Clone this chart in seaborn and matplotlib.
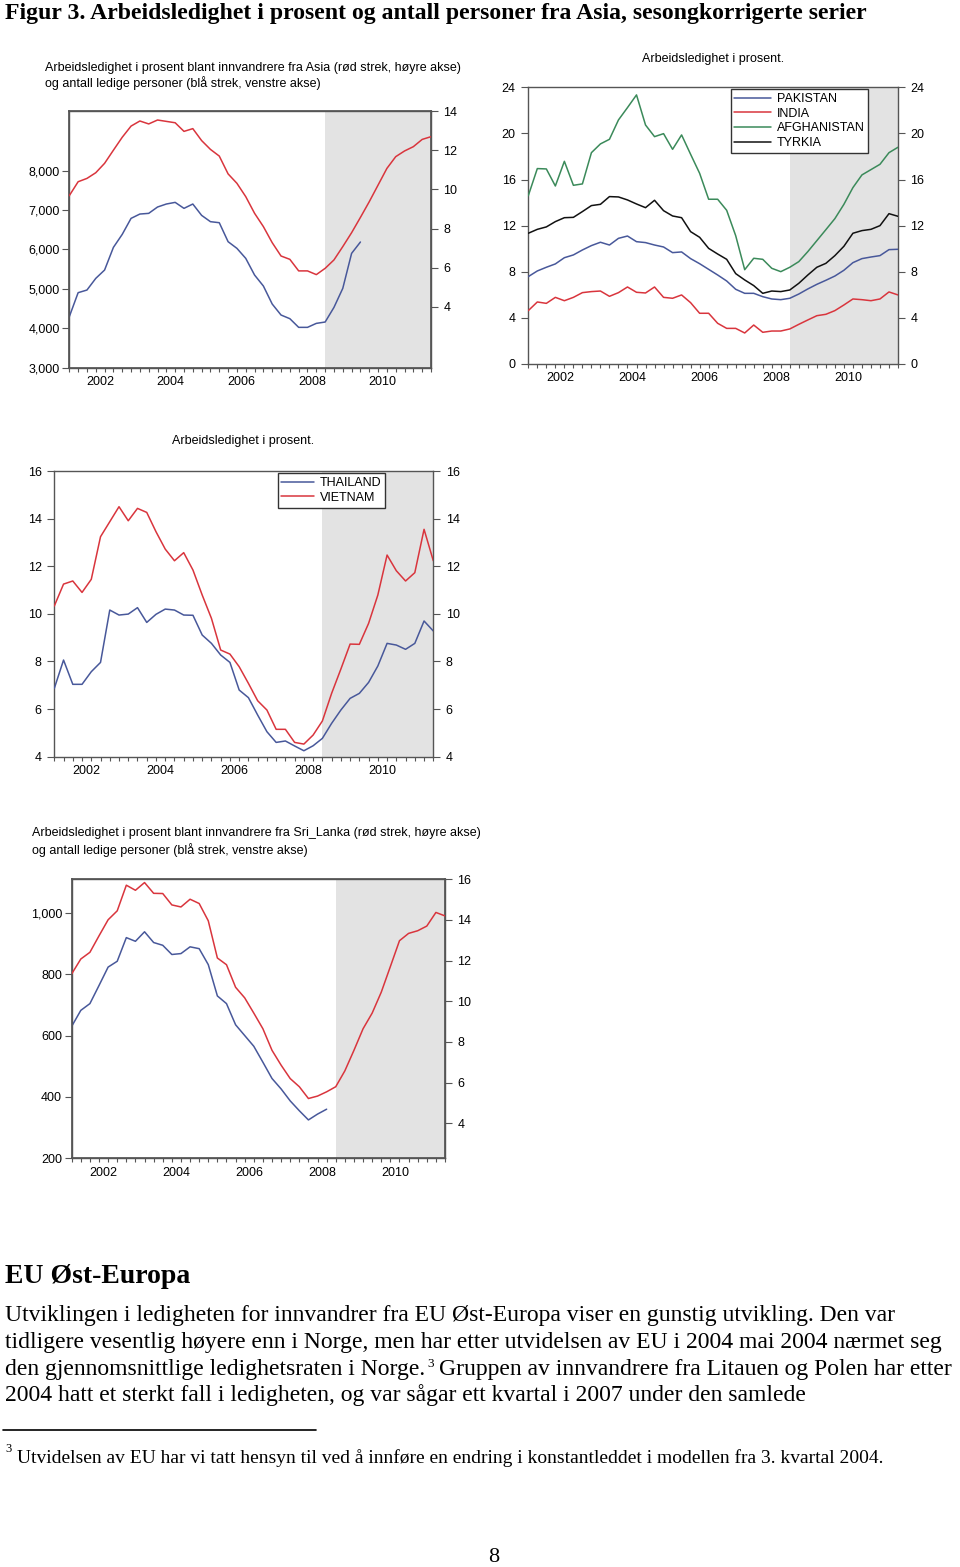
# -*- coding: utf-8 -*-
# Figur 3 : ledighet blant innvandrere fra Asia, sesongkorrigerte kvartalsserier
import numpy as np
import pandas as pd
import matplotlib
matplotlib.use("Agg")
import matplotlib.pyplot as plt
import matplotlib.ticker as mticker
import seaborn as sns

# ---------------- data (2001K3 - 2011K4, 42 kvartal) ----------------
forste_kvartal = "2001Q3"
siste_kvartal = "2011Q4"
prognose_start = 2008.75          # grått felt fra 2008K4
aar_etiketter = [2002, 2004, 2006, 2008, 2010]

# Asia : prosent (høyre akse) og antall ledige (venstre akse, slutter 2009K4)
asia_rate = [9.68, 10.39, 10.56, 10.85, 11.33, 12.0, 12.66, 13.23, 13.49, 13.34,
             13.54, 13.47, 13.4, 12.96, 13.1, 12.49, 12.04, 11.7, 10.79, 10.31,
             9.63, 8.78, 8.1, 7.28, 6.6, 6.43, 5.84, 5.84, 5.65, 5.97,
             6.4, 7.08, 7.79, 8.57, 9.37, 10.22, 11.07, 11.67, 11.96, 12.18,
             12.55, 12.69]
asia_antall = [4294, 4904, 4971, 5267, 5479, 6054, 6384, 6790, 6900, 6917,
               7078, 7154, 7196, 7044, 7154, 6866, 6706, 6680, 6198, 6029,
               5775, 5352, 5073, 4616, 4337, 4244, 4024, 4024, 4125, 4159,
               4531, 5014, 5902, 6190]

pakistan = [7.58, 8.07, 8.39, 8.68, 9.22, 9.46, 9.89, 10.27, 10.56, 10.32,
            10.9, 11.1, 10.61, 10.53, 10.32, 10.15, 9.66, 9.72, 9.14, 8.7,
            8.21, 7.72, 7.2, 6.48, 6.13, 6.13, 5.84, 5.64, 5.58, 5.7,
            6.07, 6.51, 6.91, 7.26, 7.63, 8.13, 8.79, 9.14, 9.28, 9.4,
            9.92, 9.95]
india = [4.63, 5.38, 5.26, 5.78, 5.49, 5.78, 6.19, 6.28, 6.33, 5.87,
         6.19, 6.68, 6.22, 6.16, 6.68, 5.78, 5.7, 5.99, 5.32, 4.4,
         4.4, 3.53, 3.09, 3.09, 2.69, 3.38, 2.75, 2.86, 2.86, 3.04,
         3.44, 3.82, 4.19, 4.31, 4.63, 5.12, 5.64, 5.58, 5.49, 5.64,
         6.25, 5.99]
afghanistan = [14.6, 16.95, 16.92, 15.44, 17.58, 15.5, 15.62, 18.33, 19.09, 19.49,
               21.17, 22.24, 23.34, 20.73, 19.72, 19.98, 18.62, 19.87, 18.19, 16.54,
               14.29, 14.29, 13.33, 11.13, 8.18, 9.17, 9.08, 8.3, 8.01, 8.39,
               8.88, 9.75, 10.7, 11.65, 12.61, 13.85, 15.3, 16.4, 16.86, 17.32,
               18.33, 18.8]
tyrkia = [11.34, 11.68, 11.89, 12.35, 12.69, 12.72, 13.22, 13.74, 13.85, 14.52,
          14.49, 14.23, 13.88, 13.56, 14.2, 13.3, 12.84, 12.69, 11.48, 10.99,
          10.03, 9.54, 9.08, 7.84, 7.29, 6.8, 6.13, 6.33, 6.28, 6.42,
          7.0, 7.72, 8.39, 8.73, 9.4, 10.21, 11.34, 11.57, 11.68, 12.0,
          13.04, 12.81]

thailand = [6.87, 8.06, 7.04, 7.04, 7.57, 7.96, 10.16, 9.95, 9.99, 10.26,
            9.64, 9.98, 10.2, 10.16, 9.95, 9.94, 9.11, 8.76, 8.27, 7.96,
            6.8, 6.48, 5.75, 5.05, 4.6, 4.66, 4.45, 4.25, 4.46, 4.77,
            5.4, 5.96, 6.45, 6.66, 7.12, 7.81, 8.76, 8.69, 8.51, 8.76,
            9.7, 9.28]
vietnam = [10.33, 11.25, 11.38, 10.9, 11.45, 13.24, 13.87, 14.5, 13.91, 14.43,
           14.26, 13.45, 12.72, 12.23, 12.57, 11.84, 10.79, 9.81, 8.48, 8.31,
           7.78, 7.08, 6.35, 5.96, 5.15, 5.15, 4.6, 4.53, 4.91, 5.5,
           6.66, 7.68, 8.73, 8.72, 9.6, 10.79, 12.47, 11.81, 11.38, 11.73,
           13.55, 12.23]

# Sri Lanka : prosent (høyre akse) og antall ledige (venstre akse, slutter 2008K3)
srilanka_rate = [11.35, 12.08, 12.41, 13.22, 14.01, 14.45, 15.71, 15.46, 15.84, 15.31,
                 15.3, 14.74, 14.64, 15.02, 14.81, 13.96, 12.13, 11.8, 10.69, 10.17,
                 9.42, 8.65, 7.59, 6.86, 6.2, 5.8, 5.22, 5.34, 5.55, 5.8,
                 6.58, 7.59, 8.65, 9.42, 10.45, 11.71, 12.98, 13.34, 13.47, 13.7,
                 14.37, 14.2]
srilanka_antall = [630, 682, 704, 763, 823, 842, 919, 907, 938, 903,
                   894, 864, 867, 889, 883, 831, 729, 704, 635, 600,
                   565, 513, 460, 426, 387, 355, 325, 344, 360]

# tidsakse i desimalår (kvartal 1 = år + 0.0)
perioder = pd.period_range(forste_kvartal, siste_kvartal, freq="Q")
tid = np.array([p.year + (p.quarter - 1) / 4 for p in perioder])

# ---------------- stil ----------------
sns.set_theme(style="white")
plt.rcParams["font.family"] = ["Liberation Sans", "DejaVu Sans"]
plt.rcParams["text.color"] = "black"
plt.rcParams["xtick.color"] = "black"
plt.rcParams["ytick.color"] = "black"

BLA = "#48589a"
ROD = "#d9353d"
GRONN = "#3b8a5a"
SVART = "#111111"
SKYGGE = "#e3e3e3"
RAMME = "#555555"
FS = 9.0

W, H = 960, 1567
fig = plt.figure(figsize=(W / 100, H / 100), dpi=100)

# side-akse i piksler for all tekst
page = fig.add_axes([0, 0, 1, 1])
page.set_xlim(0, W)
page.set_ylim(H, 0)
page.axis("off")


def ny_akse(venstre, hoyre, topp, bunn):
    # lag en akse fra pikselkoordinater
    return fig.add_axes([venstre / W, 1 - bunn / H, (hoyre - venstre) / W, (bunn - topp) / H])


def serie_df(navn, verdier):
    return pd.DataFrame({"tid": tid[:len(verdier)], "verdi": verdier, "serie": navn})


def tidsakse(ax):
    ax.axvspan(prognose_start, tid[-1], color=SKYGGE, lw=0, zorder=0)
    ax.set_xlim(tid[0], tid[-1])
    ax.set_xticks([a + 0.375 for a in aar_etiketter])
    ax.set_xticklabels([str(a) for a in aar_etiketter])
    ax.set_xticks(tid, minor=True)
    ax.tick_params(axis="x", which="major", length=0, pad=6, labelsize=FS, labelcolor="black")
    ax.tick_params(axis="x", which="minor", bottom=True, length=3, width=0.8,
                   direction="out", color=RAMME)
    for s in ax.spines.values():
        s.set_color(RAMME)
        s.set_linewidth(1.0)


def yakse(ax, ticks, lim, tusen=False):
    ax.set_ylim(*lim)
    ax.set_yticks(ticks)
    if tusen:
        ax.yaxis.set_major_formatter(mticker.FuncFormatter(lambda v, _: f"{v:,.0f}"))
    ax.tick_params(axis="y", length=5, width=0.8, direction="out", color=RAMME,
                   pad=2, labelsize=FS, labelcolor="black")


def tegn(ax, df, farger):
    sns.lineplot(data=df, x="tid", y="verdi", hue="serie", palette=farger,
                 linewidth=1.1, legend=False, ax=ax, zorder=3)
    ax.set_xlabel("")
    ax.set_ylabel("")


def forklaring(ax, n, navn, anker, hl):
    ax.legend(handles=ax.get_lines()[:n], labels=navn,
              loc="upper left", bbox_to_anchor=anker, borderaxespad=0,
              frameon=True, fancybox=False, edgecolor="#333333", framealpha=1,
              fontsize=FS, handlelength=hl, handletextpad=0.5, labelspacing=0.22,
              borderpad=0.3)


# ---------------- Figur A : Asia, to akser ----------------
axA = ny_akse(69.3, 431, 111, 367.7)
tidsakse(axA)
tegn(axA, serie_df("antall", asia_antall), {"antall": BLA})
yakse(axA, [3000, 4000, 5000, 6000, 7000, 8000], (3000, 9515), tusen=True)
axA2 = axA.twinx()
tegn(axA2, serie_df("rate", asia_rate), {"rate": ROD})
axA2.set_xlim(tid[0], tid[-1])
yakse(axA2, [4, 6, 8, 10, 12, 14], (0.9, 14))
axA2.tick_params(axis="y", pad=4)
for s in axA2.spines.values():
    s.set_color(RAMME)

page.text(45, 68, "Arbeidsledighet i prosent blant innvandrere fra Asia (rød strek, høyre akse)",
          fontsize=FS, va="center", ha="left")
page.text(45, 83, "og antall ledige personer (blå strek, venstre akse)",
          fontsize=FS, va="center", ha="left")

# ---------------- Figur B : fire land ----------------
axB = ny_akse(528.3, 898, 87.3, 364)
tidsakse(axB)
dfB = pd.concat([serie_df("PAKISTAN", pakistan), serie_df("INDIA", india),
                 serie_df("AFGHANISTAN", afghanistan), serie_df("TYRKIA", tyrkia)])
tegn(axB, dfB, {"PAKISTAN": BLA, "INDIA": ROD, "AFGHANISTAN": GRONN, "TYRKIA": SVART})
yakse(axB, [0, 4, 8, 12, 16, 20, 24], (0, 24))
axB.tick_params(axis="y", left=True, right=True, labelleft=True, labelright=True, pad=4)
forklaring(axB, 4, ["PAKISTAN", "INDIA", "AFGHANISTAN", "TYRKIA"], (0.547, 0.993), 2.9)
page.text(713, 59, "Arbeidsledighet i prosent.", fontsize=FS, ha="center", va="center")

# ---------------- Figur C : Thailand og Vietnam ----------------
axC = ny_akse(54.3, 433.3, 471, 756.7)
tidsakse(axC)
dfC = pd.concat([serie_df("THAILAND", thailand), serie_df("VIETNAM", vietnam)])
tegn(axC, dfC, {"THAILAND": BLA, "VIETNAM": ROD})
yakse(axC, [4, 6, 8, 10, 12, 14, 16], (4, 16))
axC.tick_params(axis="y", left=True, right=True, labelleft=True, labelright=True, pad=4)
forklaring(axC, 2, ["THAILAND", "VIETNAM"], (0.589, 0.992), 2.6)
page.text(243, 441, "Arbeidsledighet i prosent.", fontsize=FS, ha="center", va="center")

# ---------------- Figur D : Sri Lanka, to akser ----------------
axD = ny_akse(71.7, 445, 879.3, 1158.3)
tidsakse(axD)
tegn(axD, serie_df("antall", srilanka_antall), {"antall": BLA})
yakse(axD, [200, 400, 600, 800, 1000], (200, 1109), tusen=True)
axD2 = axD.twinx()
tegn(axD2, serie_df("rate", srilanka_rate), {"rate": ROD})
axD2.set_xlim(tid[0], tid[-1])
yakse(axD2, [4, 6, 8, 10, 12, 14, 16], (2.28, 16))
axD2.tick_params(axis="y", pad=4)
for s in axD2.spines.values():
    s.set_color(RAMME)

page.text(31.7, 833, "Arbeidsledighet i prosent blant innvandrere fra Sri_Lanka (rød strek, høyre akse)",
          fontsize=FS, va="center", ha="left")
page.text(31.7, 850, "og antall ledige personer (blå strek, venstre akse)",
          fontsize=FS, va="center", ha="left")

# ---------------- sidetekst ----------------
SERIF = ["Liberation Serif", "DejaVu Serif"]
page.text(5, 19.5, "Figur 3. Arbeidsledighet i prosent og antall personer fra Asia, sesongkorrigerte serier",
          family=SERIF, fontsize=17.1, fontweight="bold", va="baseline", ha="left")
page.text(5, 1283, "EU Øst-Europa", family=SERIF, fontsize=20, fontweight="bold",
          va="baseline", ha="left")

PS = 17
page.text(5, 1321, "Utviklingen i ledigheten for innvandrer fra EU Øst-Europa viser en gunstig utvikling. Den var",
          family=SERIF, fontsize=PS, va="baseline")
page.text(5, 1348, "tidligere vesentlig høyere enn i Norge, men har etter utvidelsen av EU i 2004 mai 2004 nærmet seg",
          family=SERIF, fontsize=PS, va="baseline")
t3 = page.text(5, 1374.5, "den gjennomsnittlige ledighetsraten i Norge.", family=SERIF, fontsize=PS,
               va="baseline")
page.annotate("3", xy=(1, 1), xycoords=t3, xytext=(1.5, 0.5), textcoords="offset points",
              family=SERIF, fontsize=9.5, ha="left", va="top")
page.annotate("Gruppen av innvandrere fra Litauen og Polen har etter", xy=(1, 0), xycoords=t3,
              xytext=(10, 0), textcoords="offset points", family=SERIF, fontsize=PS,
              ha="left", va="bottom")
page.text(5, 1401, "2004 hatt et sterkt fall i ledigheten, og var sågar ett kvartal i 2007 under den samlede",
          family=SERIF, fontsize=PS, va="baseline")

page.plot([3, 316], [1430, 1430], color="black", lw=1.2)
page.text(5, 1452, "3", family=SERIF, fontsize=9, va="baseline")
page.text(17, 1463, "Utvidelsen av EU har vi tatt hensyn til ved å innføre en endring i konstantleddet i modellen fra 3. kvartal 2004.",
          family=SERIF, fontsize=14, va="baseline")
page.text(494, 1557, "8", family=SERIF, fontsize=16, ha="center", va="center")

fig.savefig("out.png", dpi=100)
